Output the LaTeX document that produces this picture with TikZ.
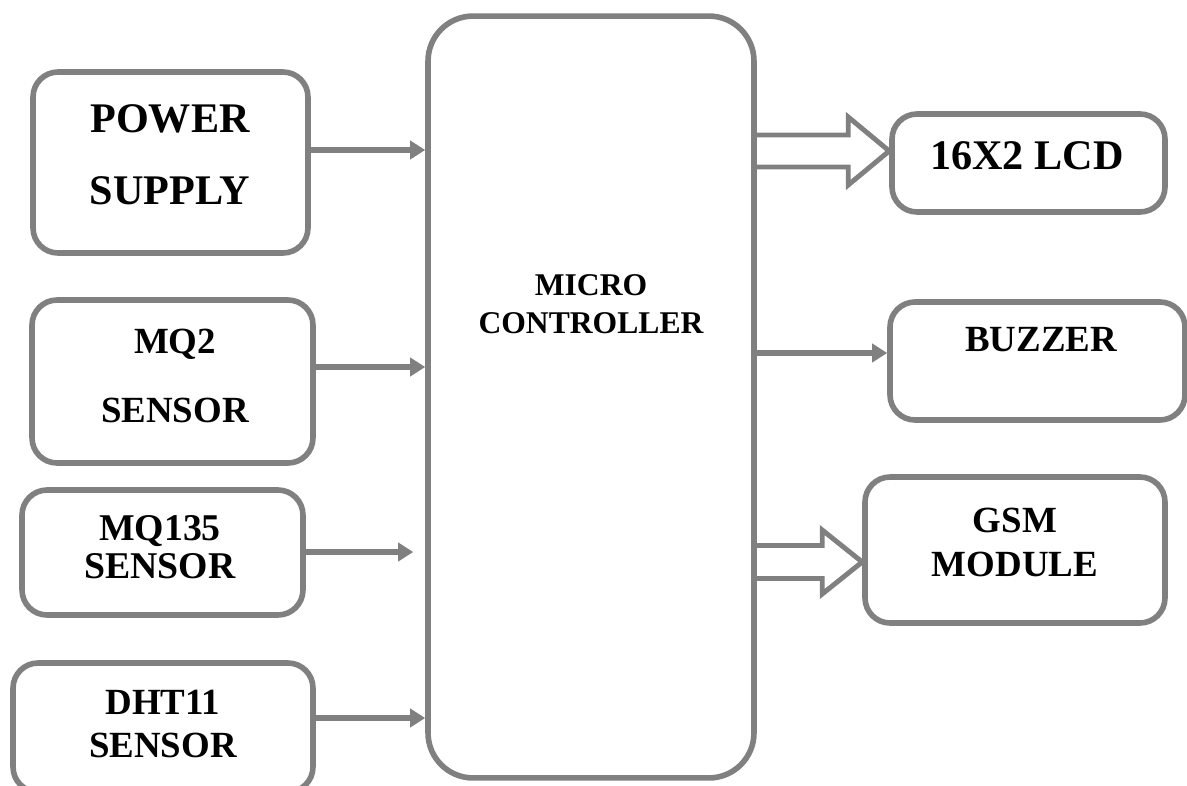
\documentclass[tikz,border=0pt]{standalone}
\usepackage{fontspec}
\setmainfont{Liberation Serif}
\usetikzlibrary{arrows.meta, calc}
\definecolor{linegray}{HTML}{808080}
\tikzstyle{block} = [rectangle, rounded corners=0.5cm, draw=linegray, line width=3.2pt]
\tikzstyle{txt} = [align=center, inner sep=0pt]
\tikzstyle{arrow} = [draw=linegray, line width=3.3pt, -{Triangle[length=0.3cm, width=0.36cm]}]
\tikzstyle{hollow} = [draw=linegray, line width=2.8pt, line join=miter]

\begin{document}
\begin{tikzpicture}[x=0.02cm, y=-0.02cm]
\useasboundingbox (0,0) rectangle (1187,785);
\clip (0,0) rectangle (1187,785);

% Boxes
\node (power) [block, minimum width=5.5cm, minimum height=3.62cm] at (170.5,162.5) {};
\node (mq2) [block, minimum width=5.62cm, minimum height=3.26cm] at (172.5,381.5) {};
\node (mq135) [block, minimum width=5.62cm, minimum height=2.5cm] at (162.5,552.5) {};
\node (dht11) [block, minimum width=6cm, minimum height=2.58cm] at (163,727.5) {};
\node (micro) [block, rounded corners=0.9cm, minimum width=6.52cm, minimum height=15.24cm] at (591,397) {};
\node (lcd) [block, minimum width=5.46cm, minimum height=1.96cm] at (1028.5,163) {};
\node (buzzer) [block, minimum width=5.9cm, minimum height=2.36cm] at (1037.5,361) {};
\node (gsm) [block, minimum width=6cm, minimum height=2.92cm] at (1015,550) {};

% Texts
\node (powertxt) [txt, font=\fontsize{24}{41}\selectfont\bfseries] at (170,154.5) {POWER\\SUPPLY};
\node (mq2txt) [txt, font=\fontsize{21}{39}\selectfont\bfseries] at (175,376) {MQ2\\SENSOR};
\node (mq135txt) [txt, font=\fontsize{21.5}{22}\selectfont\bfseries] at (160,547) {MQ135\\SENSOR};
\node (dht11txt) [txt, font=\fontsize{21}{24.4}\selectfont\bfseries] at (163,724) {DHT11\\SENSOR};
\node (microtxt) [txt, font=\fontsize{18}{21.5}\selectfont\bfseries] at (591,304) {MICRO\\CONTROLLER};
\node (lcdtxt) [txt, font=\fontsize{24}{29}\selectfont\bfseries] at (1027,156) {16X2 LCD};
\node (buzzertxt) [txt, font=\fontsize{21}{25}\selectfont\bfseries] at (1041,340) {BUZZER};
\node (gsmtxt) [txt, font=\fontsize{21}{25.5}\selectfont\bfseries] at (1015,542.5) {GSM\\MODULE};

% Inputs
\draw [arrow] (power.east |- 0,150) -- (micro.west |- 0,150);
\draw [arrow] (mq2.east |- 0,367) -- (micro.west |- 0,367);
\draw [arrow] (mq135.east |- 0,552) -- ($(micro.west |- 0,552)+(-12,0)$);
\draw [arrow] (dht11.east |- 0,718) -- (micro.west |- 0,718);

% Outputs
\draw [arrow] (micro.east |- 0,353) -- (buzzer.west |- 0,353);

\coordinate (lcdtip) at ([yshift=0.24cm]lcd.west);
\draw [hollow] ($(micro.east |- lcdtip)+(0,-16)$) -- ($(lcdtip)+(-41,-16)$) -- ++(0,-18) -- (lcdtip)
  -- ++(-41,34) -- ++(0,-18) -- ($(micro.east |- lcdtip)+(0,16)$);

\coordinate (gsmtip) at ([yshift=-0.24cm]gsm.west);
\draw [hollow] ($(micro.east |- gsmtip)+(0,-16.5)$) -- ($(gsmtip)+(-40,-16.5)$) -- ++(0,-15.5) -- (gsmtip)
  -- ++(-40,32) -- ++(0,-15.5) -- ($(micro.east |- gsmtip)+(0,16.5)$);

\end{tikzpicture}
\end{document}
